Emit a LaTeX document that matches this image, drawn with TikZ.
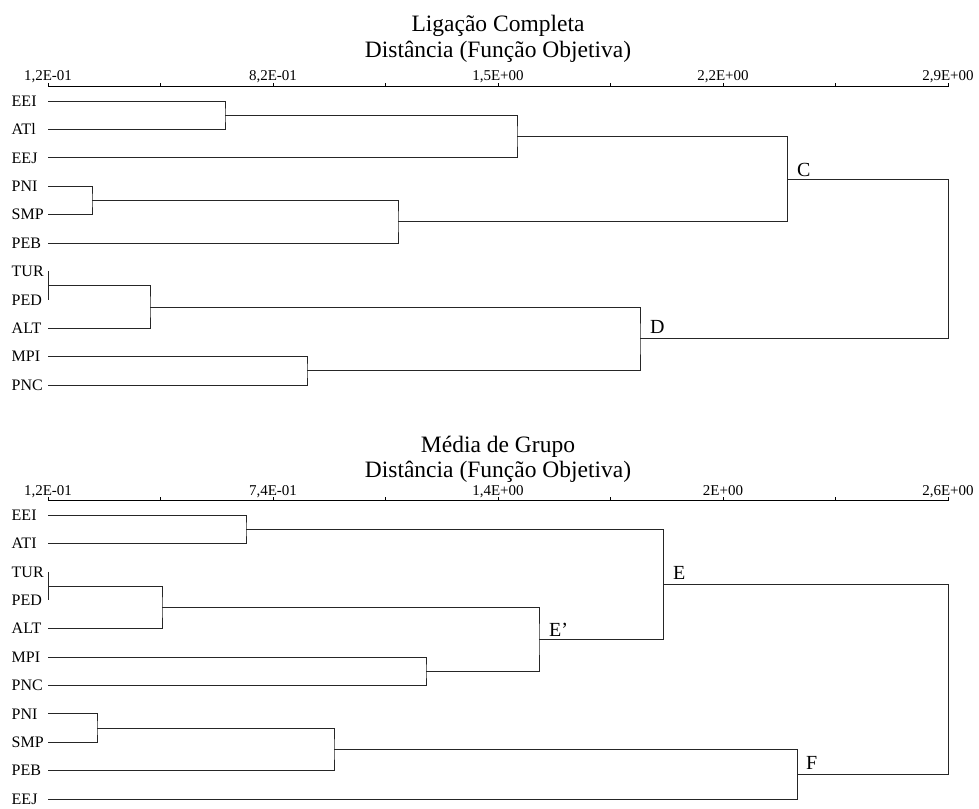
\documentclass[tikz,border=0pt]{standalone}
\usepackage{fontspec}
\setmainfont{Liberation Serif}
\usetikzlibrary{positioning}

\begin{document}
\begin{tikzpicture}[
  x=1pt,y=-1pt,
  leaf/.style={anchor=base west,inner sep=0pt,font=\fontsize{16}{16}\selectfont},
  title/.style={anchor=base,inner sep=0pt,font=\fontsize{23.5}{24}\selectfont},
  scale label/.style={anchor=base,inner sep=0pt,font=\fontsize{15}{15}\selectfont},
  cut label/.style={inner sep=0pt,font=\fontsize{20}{20}\selectfont},
  branch/.style={line width=0.8pt,black!85},
  axis/.style={line width=1.8pt},
  tick/.style={line width=1pt}
]
\useasboundingbox (0,0) rectangle (979,808);

% ---- Ligacao completa ----
\node[title] (tA1) at (498,32) {Ligação Completa};
\node[title] (tA2) at (498,57) {Distância (Função Objetiva)};
\node[scale label] (sA1) at (48,80) {1,2E-01};
\node[scale label] (sA2) at (273,80) {8,2E-01};
\node[scale label] (sA3) at (498,80) {1,5E+00};
\node[scale label] (sA4) at (723,80) {2,2E+00};
\node[scale label] (sA5) at (948,80) {2,9E+00};
\draw[axis] (48,86.5) -- (948,86.5);
\draw[tick] (48,86.5) -- ++(0,-4) (160.5,86.5) -- ++(0,-4) (273,86.5) -- ++(0,-4)
  (385.5,86.5) -- ++(0,-4) (498,86.5) -- ++(0,-4) (610.5,86.5) -- ++(0,-4)
  (723,86.5) -- ++(0,-4) (835.5,86.5) -- ++(0,-4) (948,86.5) -- ++(0,-4);

\node[leaf] (lA1) at (11.5,106.3) {EEI};
\node[leaf] (lA2) at (11.5,134.7) {ATl};
\node[leaf] (lA3) at (11.5,163.1) {EEJ};
\node[leaf] (lA4) at (11.5,191.5) {PNI};
\node[leaf] (lA5) at (11.5,219.9) {SMP};
\node[leaf] (lA6) at (11.5,248.3) {PEB};
\node[leaf] (lA7) at (11.5,276.7) {TUR};
\node[leaf] (lA8) at (11.5,305.1) {PED};
\node[leaf] (lA9) at (11.5,333.5) {ALT};
\node[leaf] (lA10) at (11.5,361.9) {MPI};
\node[leaf] (lA11) at (11.5,390.3) {PNC};

\coordinate (pA1) at (48,101);
\coordinate (pA2) at (48,129.4);
\coordinate (pA3) at (48,157.8);
\coordinate (pA4) at (48,186.2);
\coordinate (pA5) at (48,214.6);
\coordinate (pA6) at (48,243);
\coordinate (pA7) at (48,271.4);
\coordinate (pA8) at (48,299.8);
\coordinate (pA9) at (48,328.2);
\coordinate (pA10) at (48,356.6);
\coordinate (pA11) at (48,385);

\coordinate (jA1) at (225,115.2);
\coordinate (jA2) at (517,136.5);
\coordinate (jA3) at (92,200.4);
\coordinate (jA4) at (398,221.7);
\coordinate (jA5) at (787,179.1);
\coordinate (jA6) at (48,285.6);
\coordinate (jA7) at (150,306.9);
\coordinate (jA8) at (307,370.8);
\coordinate (jA9) at (640,338.85);
\coordinate (jA10) at (948,259);

\draw[branch] (pA1) -| (jA1) |- (pA2);
\draw[branch] (jA1) -| (jA2) |- (pA3);
\draw[branch] (pA4) -| (jA3) |- (pA5);
\draw[branch] (jA3) -| (jA4) |- (pA6);
\draw[branch] (jA2) -| (jA5) |- (jA4);
\draw[branch] (pA7) -- (pA8);
\draw[branch] (jA6) -| (jA7) |- (pA9);
\draw[branch] (pA10) -| (jA8) |- (pA11);
\draw[branch] (jA7) -| (jA9) |- (jA8);
\draw[branch] (jA5) -| (jA10) |- (jA9);
\node[cut label,above right=2.5pt and 10pt of jA5] (cC) {C};
\node[cut label,above right=5pt and 10pt of jA9] (cD) {D};

% ---- Media de grupo ----
\node[title] (tB1) at (498,452) {Média de Grupo};
\node[title] (tB2) at (498,477) {Distância (Função Objetiva)};
\node[scale label] (sB1) at (48,495) {1,2E-01};
\node[scale label] (sB2) at (273,495) {7,4E-01};
\node[scale label] (sB3) at (498,495) {1,4E+00};
\node[scale label] (sB4) at (723,495) {2E+00};
\node[scale label] (sB5) at (948,495) {2,6E+00};
\draw[axis] (48,500.5) -- (948,500.5);
\draw[tick] (48,500.5) -- ++(0,-4) (160.5,500.5) -- ++(0,-4) (273,500.5) -- ++(0,-4)
  (385.5,500.5) -- ++(0,-4) (498,500.5) -- ++(0,-4) (610.5,500.5) -- ++(0,-4)
  (723,500.5) -- ++(0,-4) (835.5,500.5) -- ++(0,-4) (948,500.5) -- ++(0,-4);

\node[leaf] (lB1) at (11.5,520.3) {EEI};
\node[leaf] (lB2) at (11.5,548.7) {ATI};
\node[leaf] (lB3) at (11.5,577.1) {TUR};
\node[leaf] (lB4) at (11.5,605.5) {PED};
\node[leaf] (lB5) at (11.5,633.9) {ALT};
\node[leaf] (lB6) at (11.5,662.3) {MPI};
\node[leaf] (lB7) at (11.5,690.7) {PNC};
\node[leaf] (lB8) at (11.5,719.1) {PNI};
\node[leaf] (lB9) at (11.5,747.5) {SMP};
\node[leaf] (lB10) at (11.5,775.9) {PEB};
\node[leaf] (lB11) at (11.5,804.3) {EEJ};

\coordinate (pB1) at (48,515);
\coordinate (pB2) at (48,543.4);
\coordinate (pB3) at (48,571.8);
\coordinate (pB4) at (48,600.2);
\coordinate (pB5) at (48,628.6);
\coordinate (pB6) at (48,657);
\coordinate (pB7) at (48,685.4);
\coordinate (pB8) at (48,713.8);
\coordinate (pB9) at (48,742.2);
\coordinate (pB10) at (48,770.6);
\coordinate (pB11) at (48,799);

\coordinate (jB1) at (246,529.2);
\coordinate (jB2) at (48,586);
\coordinate (jB3) at (162,607.3);
\coordinate (jB4) at (426,671.2);
\coordinate (jB5) at (539,639.25);
\coordinate (jB6) at (663,584.2);
\coordinate (jB7) at (97,728);
\coordinate (jB8) at (334,749.3);
\coordinate (jB9) at (797,774.2);
\coordinate (jB10) at (948,679.2);

\draw[branch] (pB1) -| (jB1) |- (pB2);
\draw[branch] (pB3) -- (pB4);
\draw[branch] (jB2) -| (jB3) |- (pB5);
\draw[branch] (pB6) -| (jB4) |- (pB7);
\draw[branch] (jB3) -| (jB5) |- (jB4);
\draw[branch] (jB1) -| (jB6) |- (jB5);
\draw[branch] (pB8) -| (jB7) |- (pB9);
\draw[branch] (jB7) -| (jB8) |- (pB10);
\draw[branch] (jB8) -| (jB9) |- (pB11);
\draw[branch] (jB6) -| (jB10) |- (jB9);
\node[cut label,above right=5pt and 10pt of jB6] (cE) {E};
\node[cut label,above right=2.5pt and 10pt of jB5] (cE2) {E’};
\node[cut label,above right=5pt and 9pt of jB9] (cF) {F};
\end{tikzpicture}
\end{document}
